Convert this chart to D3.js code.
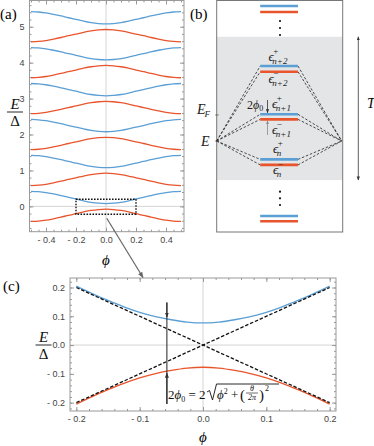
<!DOCTYPE html>
<html>
<head>
<meta charset="utf-8">
<script src="https://cdn.jsdelivr.net/npm/d3@7"></script>
<style>
  body { margin: 0; background: #fff; }
  .axis text { font-family: "Liberation Sans", Arial, sans-serif; font-size: 9px; fill: #444; }
  .axis line { stroke: #999; }
</style>
</head>
<body>
<svg id="fig" width="374" height="446"></svg>
<script>
// ---- data ----
// band index n (one blue and one red band per n)
const bandIndex = [0, 1, 2, 3, 4, 5];
// panel (a): phase samples and half-splitting of the band around n
const phiA = [-0.5, -0.45, -0.4, -0.35, -0.3, -0.25, -0.2, -0.15, -0.1, -0.05, 0,
              0.05, 0.1, 0.15, 0.2, 0.25, 0.3, 0.35, 0.4, 0.45, 0.5];
const bandA = [0.42, 0.41, 0.385, 0.345, 0.30, 0.25, 0.205, 0.155, 0.114, 0.088, 0.077,
               0.088, 0.114, 0.155, 0.205, 0.25, 0.30, 0.345, 0.385, 0.41, 0.42];
// panel (c): zoom of the lowest gap
const phiC = [-0.2, -0.175, -0.15, -0.125, -0.1, -0.075, -0.05, -0.025, 0,
              0.025, 0.05, 0.075, 0.1, 0.125, 0.15, 0.175, 0.2];
const bandC = [0.205, 0.179, 0.155, 0.133, 0.114, 0.099, 0.088, 0.080, 0.077,
               0.080, 0.088, 0.099, 0.114, 0.133, 0.155, 0.179, 0.205];
// dashed crossing lines E = +-phi in (c)
const crossA = [{phi: -0.2, e: 0.2}, {phi: 0.2, e: -0.2}];
const crossB = [{phi: -0.2, e: -0.2}, {phi: 0.2, e: 0.2}];
// gap marker in (c)
const gapPhi = -0.057, gapE = 0.094;

const xTicksA = [-0.4, -0.2, 0, 0.2, 0.4];
const yTicksA = [0, 1, 2, 3, 4, 5];
const xTicksC = [-0.2, -0.1, 0, 0.1, 0.2];
const yTicksC = [-0.2, -0.1, 0, 0.1, 0.2];

// panel (b): schematic level energies (arbitrary units)
const levelPlus  = [9.74, 7.13, 5.03, 3.07, 0.61];
const levelMinus = [9.48, 6.88, 4.81, 2.83, 0.38];
const levelSub   = ['', 'n+2', 'n+1', 'n', ''];
const energyE = 3.87, energyEF = 5.0;
const windowT = [2.17, 8.4];

const blue = '#5b9fd4', red = '#e8552c';
const serif = '"Liberation Serif", "DejaVu Serif", serif';

const svg = d3.select('#fig');
const defs = svg.append('defs');
function marker(id, color) {
  defs.append('marker').attr('id', id)
    .attr('viewBox', '0 0 10 10').attr('refX', 9).attr('refY', 5)
    .attr('markerWidth', 5).attr('markerHeight', 5)
    .attr('orient', 'auto-start-reverse')
    .append('path').attr('d', 'M0,1L10,5L0,9Z').attr('fill', color);
}
marker('arrDark', '#333');
marker('arrGray', '#888');
marker('arrLink', '#666');

const fmt = d => (d < 0 ? '- ' : '') + Math.abs(d).toFixed(1);

// frame with inward ticks on all sides, labels left + bottom
function drawFrame(g, x, y, xMajor, xMinor, yMajor, yMinor, fx, fy) {
  const [left, right] = x.range();
  const [bottom, top] = y.range();
  g.append('line').attr('x1', x(0)).attr('x2', x(0)).attr('y1', top).attr('y2', bottom)
    .attr('stroke', '#d4d4d4');
  g.append('line').attr('x1', left).attr('x2', right).attr('y1', y(0)).attr('y2', y(0))
    .attr('stroke', '#d4d4d4');
  const put = (axis, tx, ty, keep) => {
    const a = g.append('g').attr('class', 'axis')
      .attr('transform', `translate(${tx},${ty})`).call(axis);
    a.select('.domain').remove();
    if (!keep) a.selectAll('text').remove();
  };
  put(d3.axisBottom(x).tickValues(xMajor).tickSize(-4).tickPadding(5).tickFormat(fx), 0, bottom, true);
  put(d3.axisBottom(x).tickValues(xMinor).tickSize(-2), 0, bottom, false);
  put(d3.axisTop(x).tickValues(xMajor).tickSize(-4), 0, top, false);
  put(d3.axisTop(x).tickValues(xMinor).tickSize(-2), 0, top, false);
  put(d3.axisLeft(y).tickValues(yMajor).tickSize(-4).tickPadding(5).tickFormat(fy), left, 0, true);
  put(d3.axisLeft(y).tickValues(yMinor).tickSize(-2), left, 0, false);
  put(d3.axisRight(y).tickValues(yMajor).tickSize(-4), right, 0, false);
  put(d3.axisRight(y).tickValues(yMinor).tickSize(-2), right, 0, false);
  g.append('rect').attr('x', left).attr('y', top)
    .attr('width', right - left).attr('height', bottom - top)
    .attr('fill', 'none').attr('stroke', '#999');
}

function fracLabel(cx, yTop, size) {
  const g = svg.append('g').attr('font-family', serif).attr('font-size', size).attr('fill', '#111')
    .attr('text-anchor', 'middle');
  g.append('text').attr('x', cx).attr('y', yTop).attr('font-style', 'italic').text('E');
  g.append('line').attr('x1', cx - 8).attr('x2', cx + 8).attr('y1', yTop + 3).attr('y2', yTop + 3)
    .attr('stroke', '#111').attr('stroke-width', 0.9);
  g.append('text').attr('x', cx).attr('y', yTop + 17).text('Δ');
}

// ================= panel (a) =================
const xA = d3.scaleLinear().domain([-0.51, 0.52]).range([29.5, 184]);
const yA = d3.scaleLinear().domain([-0.705, 5.73]).range([231.7, 0.5]);
const gA = svg.append('g');
drawFrame(gA, xA, yA, xTicksA, d3.range(-0.5, 0.51, 0.05).map(v => +v.toFixed(2)),
  yTicksA, d3.range(-0.6, 5.7, 0.2).map(v => +v.toFixed(1)), fmt, d3.format('d'));

const lineA = d3.line().x(d => xA(d[0])).y(d => yA(d[1])).curve(d3.curveMonotoneX);
bandIndex.forEach(n => {
  gA.append('path').attr('d', lineA(phiA.map((p, i) => [p, n + bandA[i]])))
    .attr('fill', 'none').attr('stroke', blue).attr('stroke-width', 1.3);
  gA.append('path').attr('d', lineA(phiA.map((p, i) => [p, n - bandA[i]])))
    .attr('fill', 'none').attr('stroke', red).attr('stroke-width', 1.3);
});
// dotted zoom box
gA.append('rect')
  .attr('x', xA(-0.2)).attr('y', yA(0.2))
  .attr('width', xA(0.2) - xA(-0.2)).attr('height', yA(-0.22) - yA(0.2))
  .attr('fill', 'none').attr('stroke', '#111').attr('stroke-width', 1.4)
  .attr('stroke-dasharray', '1.6,1.4');

svg.append('text').attr('x', 0).attr('y', 19).attr('font-family', serif).attr('font-size', 15).text('(a)');
fracLabel(15, 109, 15);
svg.append('text').attr('x', xA(0)).attr('y', 265).attr('text-anchor', 'middle')
  .attr('font-family', serif).attr('font-style', 'italic').attr('font-size', 15).text('ϕ');

// ================= panel (b) =================
const xB = d3.scaleLinear().domain([0, 1]).range([216.7, 342.7]);
const yB = d3.scaleLinear().domain([0, 10]).range([230, 0]);
const gB = svg.append('g');
gB.append('rect').attr('x', xB(0)).attr('y', yB(windowT[1]))
  .attr('width', xB(1) - xB(0)).attr('height', yB(windowT[0]) - yB(windowT[1]))
  .attr('fill', '#e4e5e7');
gB.append('rect').attr('x', xB(0)).attr('y', 0.5)
  .attr('width', xB(1) - xB(0)).attr('height', 232 - 0.5)
  .attr('fill', 'none').attr('stroke', '#777').attr('stroke-width', 1);

const lx0 = 0.345, lx1 = 0.645;
// dashed links from E to the three middle level pairs
[1, 2, 3].forEach(i => {
  [levelPlus[i], levelMinus[i]].forEach(e => {
    gB.append('line').attr('x1', xB(0)).attr('y1', yB(energyE))
      .attr('x2', xB(lx0)).attr('y2', yB(e))
      .attr('stroke', '#222').attr('stroke-width', 0.8).attr('stroke-dasharray', '2.5,1.8');
    gB.append('line').attr('x1', xB(lx1)).attr('y1', yB(e))
      .attr('x2', xB(0.992)).attr('y2', yB(energyE))
      .attr('stroke', '#222').attr('stroke-width', 0.8).attr('stroke-dasharray', '2.5,1.8');
  });
});
levelPlus.forEach((e, i) => {
  gB.append('line').attr('x1', xB(lx0)).attr('x2', xB(lx1)).attr('y1', yB(e)).attr('y2', yB(e))
    .attr('stroke', blue).attr('stroke-width', 2.6);
  gB.append('line').attr('x1', xB(lx0)).attr('x2', xB(lx1))
    .attr('y1', yB(levelMinus[i])).attr('y2', yB(levelMinus[i]))
    .attr('stroke', red).attr('stroke-width', 2.6);
});
// vertical ellipses
[21, 28, 35, 191.7, 198.3, 205].forEach(y => {
  gB.append('circle').attr('cx', 280).attr('cy', y).attr('r', 1.1).attr('fill', '#111');
});

const eps = (x, y, sign, sub) => {
  const t = gB.append('text').attr('x', x).attr('y', y)
    .attr('font-family', serif).attr('font-size', 13).attr('fill', '#222');
  t.append('tspan').attr('font-style', 'italic').text('ϵ');
  t.append('tspan').attr('font-size', 9).attr('dx', -0.5).attr('dy', -7).text(sign === '+' ? '+' : '−');
  t.append('tspan').attr('font-size', 9).attr('font-style', 'italic')
    .attr('dx', sign === '+' ? -6 : -6).attr('dy', 10).text(sub);
};
eps(268.5, 61, '+', levelSub[1]);
eps(268.5, 83, '-', levelSub[1]);
eps(272, 108, '+', levelSub[2]);
eps(272, 134, '-', levelSub[2]);
eps(273, 153, '+', levelSub[3]);
eps(273, 174, '-', levelSub[3]);

// 2phi0 arrows
gB.append('line').attr('x1', 267.5).attr('x2', 267.5).attr('y1', 100).attr('y2', yB(levelPlus[2]) - 1.5)
  .attr('stroke', '#333').attr('stroke-width', 0.8).attr('marker-end', 'url(#arrDark)');
gB.append('line').attr('x1', 267.5).attr('x2', 267.5).attr('y1', 135).attr('y2', yB(levelMinus[2]) + 1.5)
  .attr('stroke', '#888').attr('stroke-width', 0.8).attr('marker-end', 'url(#arrGray)');
const t2 = gB.append('text').attr('x', 247).attr('y', 109)
  .attr('font-family', serif).attr('font-size', 12).attr('fill', '#222');
t2.append('tspan').text('2');
t2.append('tspan').attr('font-style', 'italic').text('ϕ');
t2.append('tspan').attr('font-size', 8).attr('dy', 2).text('0');

// T arrow
gB.append('line').attr('x1', 358.3).attr('x2', 358.3)
  .attr('y1', yB(windowT[1])).attr('y2', yB(windowT[0]))
  .attr('stroke', '#333').attr('stroke-width', 0.8)
  .attr('marker-start', 'url(#arrDark)').attr('marker-end', 'url(#arrDark)');
gB.append('text').attr('x', 367).attr('y', 108).attr('font-family', serif)
  .attr('font-style', 'italic').attr('font-size', 14).text('T');

// E and E_F marks
gB.append('line').attr('x1', xB(0) - 1.5).attr('x2', xB(0) + 2).attr('y1', yB(energyEF)).attr('y2', yB(energyEF))
  .attr('stroke', '#555').attr('stroke-width', 0.8);
gB.append('line').attr('x1', xB(0) - 1.5).attr('x2', xB(0) + 2).attr('y1', yB(energyE)).attr('y2', yB(energyE))
  .attr('stroke', '#555').attr('stroke-width', 0.8);
const tE = gB.append('text').attr('x', 201).attr('y', yB(energyE) + 5)
  .attr('font-family', serif).attr('font-size', 14).attr('fill', '#222');
tE.append('tspan').attr('font-style', 'italic').text('E');
const tEF = gB.append('text').attr('x', 197).attr('y', yB(energyEF) - 1)
  .attr('font-family', serif).attr('font-size', 14).attr('fill', '#222');
tEF.append('tspan').attr('font-style', 'italic').text('E');
tEF.append('tspan').attr('font-style', 'italic').attr('font-size', 9).attr('dy', 3).attr('dx', -1).text('F');

svg.append('text').attr('x', 190).attr('y', 19).attr('font-family', serif).attr('font-size', 15).text('(b)');

// ================= panel (c) =================
const xC = d3.scaleLinear().domain([-0.21, 0.21]).range([70, 336]);
const yC = d3.scaleLinear().domain([-0.229, 0.233]).range([411, 278]);
const gC = svg.append('g');
drawFrame(gC, xC, yC, xTicksC, d3.range(-0.2, 0.21, 0.02).map(v => +v.toFixed(2)),
  yTicksC, d3.range(-0.22, 0.23, 0.02).map(v => +v.toFixed(2)), fmt, fmt);

const lineC = d3.line().x(d => xC(d[0])).y(d => yC(d[1])).curve(d3.curveMonotoneX);
gC.append('path').attr('d', lineC(phiC.map((p, i) => [p, bandC[i]])))
  .attr('fill', 'none').attr('stroke', blue).attr('stroke-width', 1.3);
gC.append('path').attr('d', lineC(phiC.map((p, i) => [p, -bandC[i]])))
  .attr('fill', 'none').attr('stroke', red).attr('stroke-width', 1.3);
const lineX = d3.line().x(d => xC(d.phi)).y(d => yC(d.e));
[crossA, crossB].forEach(c => {
  gC.append('path').attr('d', lineX(c)).attr('fill', 'none')
    .attr('stroke', '#111').attr('stroke-width', 1.3).attr('stroke-dasharray', '3.5,1.8');
});

// gap marker
gC.append('line').attr('x1', xC(gapPhi)).attr('x2', xC(gapPhi)).attr('y1', 302.5).attr('y2', 404)
  .attr('stroke', '#222').attr('stroke-width', 1);
gC.append('line').attr('x1', xC(gapPhi)).attr('x2', xC(gapPhi)).attr('y1', 302.5).attr('y2', yC(gapE) - 1)
  .attr('stroke', '#222').attr('stroke-width', 1).attr('marker-end', 'url(#arrDark)');
gC.append('line').attr('x1', xC(gapPhi)).attr('x2', xC(gapPhi)).attr('y1', 404).attr('y2', yC(-gapE) + 1)
  .attr('stroke', '#222').attr('stroke-width', 1).attr('marker-end', 'url(#arrDark)');

// formula 2phi0 = 2 sqrt(phi^2 + (theta/2pi)^2)
const fg = gC.append('g').attr('font-family', serif).attr('fill', '#111');
const f1 = fg.append('text').attr('x', 168).attr('y', 399).attr('font-size', 13);
f1.append('tspan').text('2');
f1.append('tspan').attr('font-style', 'italic').text('ϕ');
f1.append('tspan').attr('font-size', 8).attr('dy', 2.5).text('0');
f1.append('tspan').attr('dy', -2.5).text(' = 2');
fg.append('path').attr('d', 'M207,392 L209.5,390.5 L212.5,400 L216.5,384 L279,384')
  .attr('fill', 'none').attr('stroke', '#111').attr('stroke-width', 0.9);
const f2 = fg.append('text').attr('x', 217).attr('y', 399).attr('font-size', 13);
f2.append('tspan').attr('font-style', 'italic').text('ϕ');
f2.append('tspan').attr('font-size', 8).attr('dy', -5).text('2');
f2.append('tspan').attr('dy', 5).text(' + ');
fg.append('text').attr('x', 240).attr('y', 400).attr('font-size', 15).text('(');
fg.append('text').attr('x', 252).attr('y', 391).attr('font-size', 8).attr('font-style', 'italic')
  .attr('text-anchor', 'middle').text('θ');
fg.append('line').attr('x1', 246).attr('x2', 258).attr('y1', 393).attr('y2', 393)
  .attr('stroke', '#111').attr('stroke-width', 0.6);
fg.append('text').attr('x', 252).attr('y', 399.5).attr('font-size', 8).attr('font-style', 'italic')
  .attr('text-anchor', 'middle').text('2π');
fg.append('text').attr('x', 259).attr('y', 400).attr('font-size', 15).text(')');
fg.append('text').attr('x', 265).attr('y', 391).attr('font-size', 8).text('2');

svg.append('text').attr('x', 3).attr('y', 291).attr('font-family', serif).attr('font-size', 15).text('(c)');
fracLabel(43.5, 342, 15);
svg.append('text').attr('x', xC(0)).attr('y', 442).attr('text-anchor', 'middle')
  .attr('font-family', serif).attr('font-style', 'italic').attr('font-size', 15).text('ϕ');

// link arrow (a) -> (c)
svg.append('line').attr('x1', xA(0.005)).attr('y1', yA(-0.33)).attr('x2', 143).attr('y2', 277.5)
  .attr('stroke', '#666').attr('stroke-width', 1.2).attr('marker-end', 'url(#arrLink)');
</script>
</body>
</html>
